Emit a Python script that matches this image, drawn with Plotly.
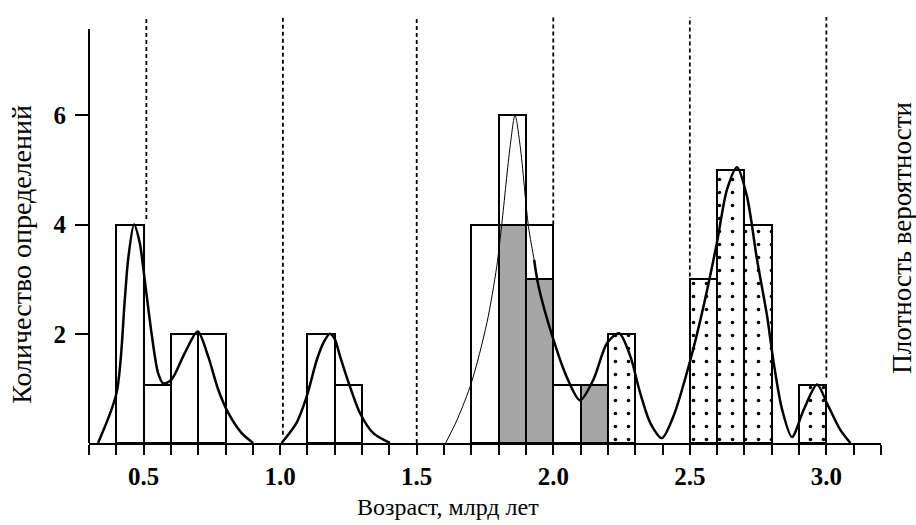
import plotly.graph_objects as go

# Histogram bins (left edge, bin width 0.1 Ga) and counts
bin_width = 0.1
open_bins = [0.4, 0.5, 0.6, 0.7, 1.1, 1.2, 1.7, 1.8, 1.9, 2.0]
open_counts = [4, 1.07, 2, 2, 2, 1.07, 4, 6, 4, 1.07]
gray_bins = [1.8, 1.9, 2.1]
gray_counts = [4, 3, 1.07]
dotted_bins = [2.2, 2.5, 2.6, 2.7, 2.9]
dotted_counts = [2, 3, 5, 4, 1.07]

# Probability density curves
pdf1_x = [0.333, 0.401, 0.431, 0.443, 0.465, 0.486, 0.498, 0.529, 0.553, 0.572,
          0.602, 0.651, 0.698, 0.736, 0.773, 0.810, 0.859, 0.901]
pdf1_y = [0.0, 0.92, 2.62, 3.35, 4.0, 3.66, 3.23, 2.01, 1.28, 1.09,
          1.16, 1.65, 2.04, 1.59, 0.98, 0.55, 0.18, 0.0]
pdf2_x = [1.005, 1.06, 1.097, 1.134, 1.16, 1.182, 1.2, 1.219, 1.255, 1.292, 1.341, 1.402]
pdf2_y = [0.0, 0.37, 0.85, 1.52, 1.85, 2.0, 1.9, 1.59, 1.04, 0.55, 0.18, 0.0]
pdf3_x = [1.606, 1.65, 1.70, 1.757, 1.793, 1.812, 1.842, 1.86, 1.879, 1.909, 1.93, 1.946]
pdf3_y = [0.0, 0.45, 1.1, 2.2, 3.23, 4.03, 5.43, 6.0, 5.43, 3.97, 3.35, 2.87]
pdf4_x = [1.93, 1.946, 2.0, 2.05, 2.098, 2.147, 2.197, 2.241, 2.282, 2.318, 2.355,
          2.398, 2.44, 2.502, 2.55, 2.599, 2.636, 2.673, 2.709, 2.746, 2.783,
          2.807, 2.838, 2.874, 2.917, 2.966, 3.002, 3.051, 3.088]
pdf4_y = [3.35, 2.87, 1.9, 1.2, 0.78, 1.16, 1.83, 2.01, 1.59, 0.92, 0.37,
          0.09, 0.49, 1.52, 2.5, 3.66, 4.64, 5.05, 4.52, 3.36, 2.32,
          1.47, 0.61, 0.11, 0.61, 1.07, 0.73, 0.24, 0.0]

# Vertical age boundaries (x) and the level where each one stops
boundary_x = [0.51, 1.01, 1.5, 2.0, 2.5, 3.0]
boundary_bottom = [4.1, 0.15, 0.0, 4.0, 3.05, 1.2]
boundary_top = 7.8

# Axis ticks
x_tick_vals = [round(0.3 + 0.1 * i, 1) for i in range(30)]
x_tick_text = [f"{v:.1f}" if abs(v * 2 - round(v * 2)) < 1e-9 and 0.5 <= v <= 3.0 else ""
               for v in x_tick_vals]
y_tick_vals = [2, 4, 6]
y_tick_text = ["2", "4", "6"]
y_axis_top = 7.58

X_RANGE = [0.3, 3.2]
Y_RANGE = [0.0, 7.8]
FONT = "Liberation Serif"


def centers(edges):
    return [e + bin_width / 2 for e in edges]


fig = go.Figure()

fig.add_trace(go.Bar(
    x=centers(open_bins), y=open_counts, width=bin_width,
    marker=dict(color="white", line=dict(color="black", width=2)),
    showlegend=False,
))
fig.add_trace(go.Bar(
    x=centers(gray_bins), y=gray_counts, width=bin_width,
    marker=dict(color="#a6a6a6", line=dict(color="black", width=2)),
    showlegend=False,
))
fig.add_trace(go.Bar(
    x=centers(dotted_bins), y=dotted_counts, width=bin_width,
    marker=dict(color="white", line=dict(color="black", width=2),
                pattern=dict(shape=".", fgcolor="black", fgopacity=1, bgcolor="white",
                             size=13, solidity=0.06, fillmode="overlay")),
    showlegend=False,
))

for cx, cy, w in [(pdf1_x, pdf1_y, 2.5), (pdf2_x, pdf2_y, 2.5),
                  (pdf3_x, pdf3_y, 1.0), (pdf4_x, pdf4_y, 2.5)]:
    fig.add_trace(go.Scatter(
        x=cx, y=cy, mode="lines",
        line=dict(color="black", width=w, shape="spline", smoothing=0.8),
        showlegend=False, hoverinfo="skip",
    ))

# Dashed age boundaries
for bx, by in zip(boundary_x, boundary_bottom):
    fig.add_shape(type="line", xref="x", yref="y",
                  x0=bx, x1=bx, y0=by, y1=boundary_top,
                  line=dict(color="black", width=1.8, dash="4px,3px"), layer="below")

# Left axis line, shorter than the plotting area
fig.add_shape(type="line", xref="paper", yref="y", x0=0, x1=0, y0=0, y1=y_axis_top,
              line=dict(color="black", width=2))

fig.update_layout(
    width=916, height=525,
    margin=dict(l=89, r=35, t=17, b=82),
    paper_bgcolor="white", plot_bgcolor="white",
    barmode="overlay", bargap=0,
    font=dict(family=FONT, color="black"),
    xaxis=dict(range=X_RANGE, showgrid=False, zeroline=False,
               showline=True, linecolor="black", linewidth=2,
               tickmode="array", tickvals=x_tick_vals, ticktext=x_tick_text,
               ticks="outside", ticklen=10, tickwidth=2, tickcolor="black",
               tickfont=dict(family=FONT, size=25, weight="bold")),
    yaxis=dict(range=Y_RANGE, showgrid=False, zeroline=False, showline=False,
               tickmode="array", tickvals=y_tick_vals, ticktext=y_tick_text,
               ticks="outside", ticklen=13, tickwidth=2, tickcolor="black",
               ticklabelstandoff=4,
               tickfont=dict(family=FONT, size=25, weight="bold")),
    annotations=[
        dict(text="Возраст, млрд лет", xref="x", yref="paper", x=1.613, y=-0.15,
             showarrow=False, xanchor="center", yanchor="middle",
             font=dict(family=FONT, size=24)),
        dict(text="Количество определений", xref="paper", yref="paper",
             x=-0.0846, y=0.444, textangle=-90, showarrow=False,
             xanchor="center", yanchor="middle", font=dict(family=FONT, size=28)),
        dict(text="Плотность вероятности", xref="paper", yref="paper",
             x=1.027, y=0.483, textangle=-90, showarrow=False,
             xanchor="center", yanchor="middle", font=dict(family=FONT, size=27)),
    ],
)

fig.write_html("out.html")
